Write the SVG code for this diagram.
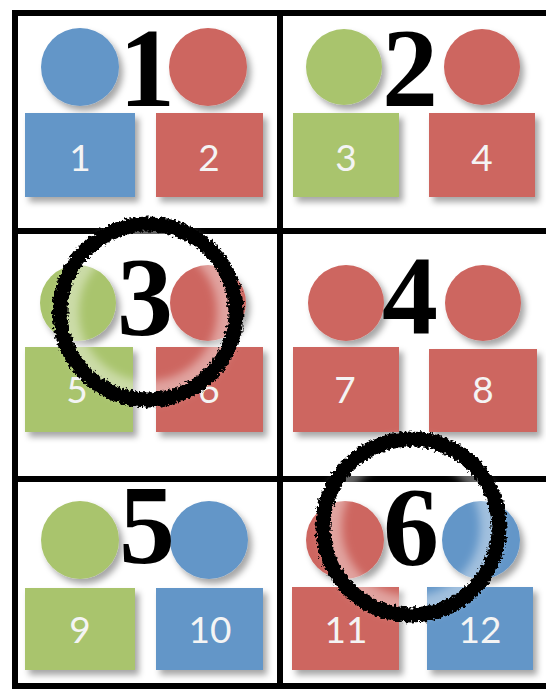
<svg xmlns="http://www.w3.org/2000/svg" width="546" height="689" viewBox="0 0 546 689">
<style>
.b{fill:#6496c8}.r{fill:#cd6660}.g{fill:#a9c46d}
.sh{filter:url(#ds)}
.lbl{font-family:Lato,"Liberation Sans",sans-serif;font-size:37px;fill:#f4f4f4;text-anchor:middle}
.big{font-family:"Liberation Serif","Times New Roman",serif;font-weight:bold;font-size:112px;fill:#000;text-anchor:middle}
.grid{stroke:#000;stroke-width:6;fill:none}
.ring{fill:none;stroke:#000;stroke-width:15;filter:url(#rough)}
.halo{fill:none;stroke:#fff;stroke-opacity:0.4;stroke-width:22;filter:url(#blur)}
</style>
<defs>
<filter id="ds" x="-20%" y="-20%" width="150%" height="150%">
<feDropShadow dx="4" dy="5" stdDeviation="3" flood-color="#000" flood-opacity="0.35"/>
</filter>
<filter id="blur" x="-20%" y="-20%" width="140%" height="140%">
<feGaussianBlur stdDeviation="4"/>
</filter>
<filter id="rough" x="-20%" y="-20%" width="140%" height="140%">
<feTurbulence type="fractalNoise" baseFrequency="0.35" numOctaves="2" seed="3" result="n"/>
<feDisplacementMap in="SourceGraphic" in2="n" scale="7" xChannelSelector="R" yChannelSelector="G"/>
</filter>
</defs>
<rect width="546" height="689" fill="#fff"/>
<g id="grid">
<line class="grid" x1="15" y1="13" x2="546" y2="13"/>
<line class="grid" x1="15" y1="231" x2="546" y2="231"/>
<line class="grid" x1="15" y1="479" x2="546" y2="479"/>
<line class="grid" x1="15" y1="686" x2="546" y2="686"/>
<line class="grid" x1="15" y1="10" x2="15" y2="689"/>
<line class="grid" x1="280" y1="10" x2="280" y2="689"/>
</g>
<g id="cell1">
<circle class="b sh" cx="80" cy="67" r="39"/>
<circle class="r sh" cx="208" cy="67" r="39"/>
<rect class="b sh" x="25" y="113" width="110" height="84"/>
<rect class="r sh" x="156" y="113" width="107" height="84"/>
<text class="lbl" x="80" y="171">1</text>
<text class="lbl" x="209" y="171">2</text>
<text class="big" x="147" y="106">1</text>
</g>
<g id="cell2">
<circle class="g sh" cx="344" cy="67" r="38"/>
<circle class="r sh" cx="482" cy="67" r="38"/>
<rect class="g sh" x="293" y="113" width="106" height="84"/>
<rect class="r sh" x="429" y="113" width="106" height="84"/>
<text class="lbl" x="346" y="171">3</text>
<text class="lbl" x="482" y="171">4</text>
<text class="big" x="410" y="106">2</text>
</g>
<g id="cell3">
<circle class="g sh" cx="78" cy="303" r="38"/>
<circle class="r sh" cx="208" cy="303" r="38"/>
<rect class="g sh" x="25" y="347" width="108" height="85"/>
<rect class="r sh" x="156" y="347" width="107" height="85"/>
<text class="lbl" x="77" y="403">5</text>
<text class="lbl" x="209" y="403">6</text>
</g>
<g id="cell4">
<circle class="r sh" cx="346" cy="303" r="38"/>
<circle class="r sh" cx="483" cy="303" r="38"/>
<rect class="r sh" x="293" y="347" width="106" height="85"/>
<rect class="r sh" x="429" y="349" width="108" height="83"/>
<text class="lbl" x="345" y="403">7</text>
<text class="lbl" x="483" y="403">8</text>
<text class="big" x="410" y="334">4</text>
</g>
<g id="cell5">
<circle class="g sh" cx="80" cy="540" r="39"/>
<circle class="b sh" cx="209" cy="540" r="39"/>
<rect class="g sh" x="25" y="588" width="110" height="82"/>
<rect class="b sh" x="156" y="588" width="107" height="82"/>
<text class="lbl" x="80" y="643">9</text>
<text class="lbl" x="210" y="643">10</text>
<text class="big" x="147" y="563">5</text>
</g>
<g id="cell6">
<circle class="r sh" cx="345" cy="540" r="39"/>
<circle class="b sh" cx="481" cy="540" r="39"/>
<rect class="r sh" x="292" y="587" width="107" height="83"/>
<rect class="b sh" x="427" y="587" width="106" height="83"/>
<text class="lbl" x="346" y="643">11</text>
<text class="lbl" x="480" y="643">12</text>
</g>
<g id="rings">
<circle class="halo" cx="148" cy="312" r="80"/>
<circle class="halo" cx="411" cy="527" r="80"/>
<circle class="ring" cx="148" cy="312" r="88"/>
<circle class="ring" cx="411" cy="527" r="88"/>
</g>
<g id="ring-labels">
<text class="big" x="145" y="335">3</text>
<text class="big" x="411" y="565">6</text>
</g>
</svg>
